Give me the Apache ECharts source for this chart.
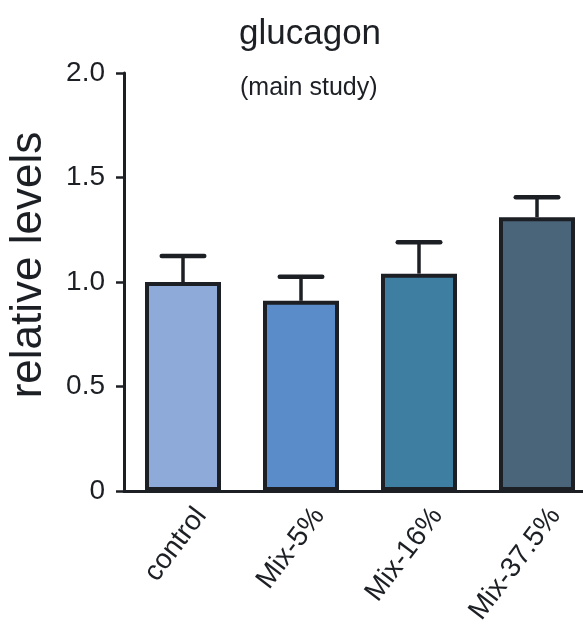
<!DOCTYPE html>
<html><head><meta charset="utf-8">
<script src="https://cdn.jsdelivr.net/npm/echarts@6/dist/echarts.min.js"></script>
<style>html,body{margin:0;padding:0;background:#fff}#c{width:583px;height:636px}</style>
</head><body><div id="c"></div>
<script>
const categories = ['control', 'Mix-5%', 'Mix-16%', 'Mix-37.5%'];
const means = [1.00, 0.91, 1.04, 1.31];
const errUpper = [1.125, 1.025, 1.19, 1.405];
const barColors = ['#8eaad8', '#5a8cc9', '#3e7ea1', '#4a6479'];
const titleText = 'glucagon';
const subtitleText = '(main study)';
const yName = 'relative levels';

const FONT = '"Liberation Sans", Arial, Helvetica, sans-serif';
const INK = '#1c1f24';

const chart = echarts.init(document.getElementById('c'));
chart.setOption({
  animation: false,
  backgroundColor: '#fff',
  title: [
    { text: titleText, left: 239, top: 17, padding: 0,
      textStyle: { fontFamily: FONT, fontSize: 35, fontWeight: 'normal', color: INK } },
    { text: subtitleText, left: 240, top: 76, padding: 0,
      textStyle: { fontFamily: FONT, fontSize: 25, fontWeight: 'normal', color: INK } }
  ],
  grid: { left: 124, width: 472, top: 73, bottom: 145, containLabel: false, outerBoundsMode: 'none' },
  xAxis: {
    type: 'category',
    data: categories,
    axisLine: { lineStyle: { color: INK, width: 3 } },
    axisTick: { alignWithLabel: true, length: 4, lineStyle: { color: INK, width: 2 } },
    axisLabel: { rotate: 53, margin: 44, padding: [0, -30, 0, 0],
      fontFamily: FONT, fontSize: 28, color: INK, interval: 0 }
  },
  yAxis: {
    type: 'value', min: 0, max: 2, interval: 0.5,
    name: yName, nameLocation: 'middle', nameGap: 73,
    nameTextStyle: { fontFamily: FONT, fontSize: 44, color: INK, padding: [0, 0, 0, 34] },
    splitLine: { show: false },
    axisLine: { show: true, lineStyle: { color: INK, width: 3 } },
    axisTick: { show: true, length: 8, lineStyle: { color: INK, width: 2.5 } },
    axisLabel: { margin: 19, fontFamily: FONT, fontSize: 28, color: INK,
      formatter: v => v === 0 ? '0' : v.toFixed(1) }
  },
  series: [
    {
      type: 'custom',
      z: 1,
      data: categories.map((c, i) => [i, means[i], errUpper[i]]),
      renderItem: function (params, api) {
        const base = api.coord([api.value(0), api.value(1)]);
        const top = api.coord([api.value(0), api.value(2)]);
        const half = api.size([1, 0])[0] * 0.18;
        return {
          type: 'group',
          children: [
            { type: 'line', shape: { x1: top[0], y1: base[1], x2: top[0], y2: top[1] },
              style: { stroke: INK, lineWidth: 3.5 } },
            { type: 'line', shape: { x1: top[0] - half, y1: top[1], x2: top[0] + half, y2: top[1] },
              style: { stroke: INK, lineWidth: 4.5, lineCap: 'round' } }
          ]
        };
      }
    },
    {
      type: 'bar',
      z: 2,
      barWidth: 76,
      data: means.map((v, i) => ({ value: v, itemStyle: { color: barColors[i] } })),
      itemStyle: { borderColor: INK, borderWidth: 4 }
    }
  ]
});
</script></body></html>
